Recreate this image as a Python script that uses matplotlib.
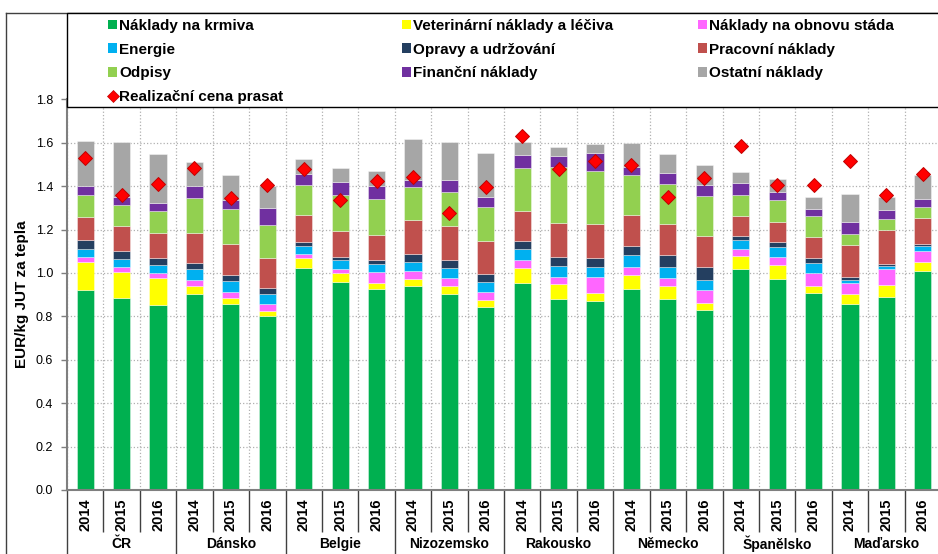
import numpy as np
import matplotlib
matplotlib.use("Agg")
import matplotlib.pyplot as plt
import matplotlib.transforms as mtransforms
from matplotlib.patches import Patch, Rectangle
from matplotlib.lines import Line2D

plt.rcParams['font.family'] = ['Liberation Sans', 'DejaVu Sans']

countries = ['ČR', 'Dánsko', 'Belgie', 'Nizozemsko', 'Rakousko',
             'Německo', 'Španělsko', 'Maďarsko']
years = ['2014', '2015', '2016']

# cost items, EUR/kg, 8 countries x 3 years
krmiva = [0.920, 0.885, 0.852, 0.905, 0.857, 0.802, 1.025, 0.957, 0.925,
          0.938, 0.905, 0.843, 0.954, 0.880, 0.872, 0.926, 0.880, 0.828,
          1.020, 0.972, 0.908, 0.857, 0.888, 1.008]
veterinarni = [0.132, 0.118, 0.126, 0.033, 0.029, 0.021, 0.044, 0.041, 0.027,
               0.034, 0.035, 0.032, 0.069, 0.069, 0.036, 0.063, 0.062, 0.032,
               0.057, 0.063, 0.032, 0.048, 0.055, 0.044]
obnova = [0.020, 0.023, 0.020, 0.028, 0.028, 0.034, 0.020, 0.022, 0.053,
          0.036, 0.037, 0.039, 0.035, 0.031, 0.072, 0.037, 0.033, 0.060,
          0.032, 0.039, 0.062, 0.049, 0.074, 0.048]
energie = [0.039, 0.037, 0.039, 0.051, 0.048, 0.045, 0.037, 0.038, 0.037,
           0.044, 0.045, 0.046, 0.051, 0.052, 0.049, 0.056, 0.051, 0.046,
           0.042, 0.046, 0.044, 0.015, 0.014, 0.023]
opravy = [0.041, 0.039, 0.031, 0.029, 0.030, 0.027, 0.016, 0.016, 0.018,
          0.034, 0.036, 0.034, 0.040, 0.042, 0.042, 0.043, 0.057, 0.062,
          0.020, 0.023, 0.025, 0.013, 0.011, 0.011]
pracovni = [0.108, 0.113, 0.117, 0.139, 0.142, 0.142, 0.124, 0.118, 0.117,
            0.159, 0.159, 0.151, 0.137, 0.154, 0.154, 0.141, 0.142, 0.143,
            0.091, 0.092, 0.095, 0.146, 0.156, 0.120]
odpisy = [0.100, 0.099, 0.101, 0.160, 0.161, 0.152, 0.139, 0.166, 0.165,
          0.152, 0.154, 0.157, 0.199, 0.261, 0.246, 0.183, 0.186, 0.184,
          0.096, 0.100, 0.097, 0.050, 0.050, 0.049]
financni = [0.040, 0.034, 0.037, 0.057, 0.043, 0.077, 0.050, 0.059, 0.058,
            0.031, 0.057, 0.047, 0.060, 0.049, 0.083, 0.037, 0.049, 0.050,
            0.057, 0.039, 0.031, 0.056, 0.043, 0.037]
ostatni = [0.209, 0.255, 0.225, 0.110, 0.111, 0.102, 0.068, 0.066, 0.071,
           0.189, 0.175, 0.205, 0.060, 0.040, 0.040, 0.114, 0.088, 0.092,
           0.048, 0.061, 0.058, 0.132, 0.057, 0.111]
# realised pig price
cena = [1.528, 1.357, 1.412, 1.482, 1.346, 1.403, 1.478, 1.338, 1.422,
        1.443, 1.277, 1.397, 1.631, 1.477, 1.517, 1.497, 1.348, 1.438,
        1.585, 1.405, 1.405, 1.517, 1.358, 1.458]

series = [
    ('Náklady na krmiva', krmiva, '#00B050'),
    ('Veterinární náklady a léčiva', veterinarni, '#FFFF00'),
    ('Náklady na obnovu stáda', obnova, '#FF66FF'),
    ('Energie', energie, '#00B0F0'),
    ('Opravy a udržování', opravy, '#243F60'),
    ('Pracovní náklady', pracovni, '#C0504D'),
    ('Odpisy', odpisy, '#92D050'),
    ('Finanční náklady', financni, '#7030A0'),
    ('Ostatní náklady', ostatni, '#A6A6A6'),
]

W, H = 938, 554
fig = plt.figure(figsize=(W / 100, H / 100), dpi=100)
ax = fig.add_axes([67 / W, 64 / H, 874 / W, 390.7 / H])

n = len(krmiva)
x = np.arange(n) + 0.5
bottom = np.zeros(n)
for label, vals, col in series:
    ax.bar(x, vals, 0.47, bottom=bottom, color=col,
           edgecolor=(1, 1, 1, 0.45), linewidth=0.6, zorder=2)
    bottom += np.array(vals)

ax.plot(x, cena, ls='', marker='D', ms=7.6, color='#FF0000',
        mec='#C00000', mew=0.7, zorder=4)

ax.set_xlim(0, n)
ax.set_ylim(0, 1.8)
ax.set_yticks(np.arange(0, 1.81, 0.2))
ax.set_yticklabels([f'{v:.1f}' for v in np.arange(0, 1.81, 0.2)])
ax.tick_params(axis='y', direction='out', length=4, width=1,
               color='#7f7f7f', labelsize=9, pad=6)

# separators under the axis: long ones between countries, short between years
ax.set_xticks(np.arange(0, n + 1, 3))
ax.set_xticks([k for k in range(n + 1) if k % 3], minor=True)
ax.tick_params(axis='x', which='major', direction='out', length=50,
               width=1, color='#404040', labelbottom=False)
ax.tick_params(axis='x', which='minor', direction='out', length=30.5,
               width=1, color='#404040', labelbottom=False)

ax.grid(True, axis='y', color='#b0b0b0', ls=':', lw=0.9, zorder=0)
ax.grid(True, axis='x', which='both', color='#b0b0b0', ls=':', lw=0.9,
        zorder=0)
ax.set_axisbelow(True)

for s in ['top', 'right']:
    ax.spines[s].set_visible(False)
ax.spines['left'].set_color('#7f7f7f')
ax.spines['left'].set_linewidth(1.5)
ax.spines['bottom'].set_color('#7f7f7f')
ax.spines['bottom'].set_linewidth(1.5)

ax.set_ylabel('EUR/kg JUT za tepla', fontsize=11, fontweight='bold')
ax.yaxis.set_label_coords(-38 / 874, 0.5)

trans = mtransforms.blended_transform_factory(ax.transData, ax.transAxes)
for i in range(n):
    ax.text(x[i], -25 / 390.7, years[i % 3], rotation=90, ha='center',
            va='center', fontsize=10.5, fontweight='bold', transform=trans,
            clip_on=False)
for j, c in enumerate(countries):
    ax.text(3 * j + 1.5, -54 / 390.7, c, ha='center', va='center',
            fontsize=10, fontweight='bold', transform=trans, clip_on=False)

# chart border and legend box
fig.add_artist(Line2D([6 / W, 1], [1 - 13 / H, 1 - 13 / H],
                      transform=fig.transFigure, color='#404040', lw=1))
fig.add_artist(Line2D([6 / W, 6 / W], [0, 1 - 13 / H],
                      transform=fig.transFigure, color='#404040', lw=1))
fig.add_artist(Rectangle((67 / W, 1 - 107 / H), 1, 94 / H,
                         transform=fig.transFigure, facecolor='white',
                         edgecolor='black', lw=1, zorder=2))

handles = {lab: Patch(facecolor=col) for lab, vals, col in series}
price_handle = Line2D([], [], ls='', marker='D', ms=6, color='#FF0000',
                      mec='#C00000', mew=0.5)
cols = [
    (['Náklady na krmiva', 'Energie', 'Odpisy'], 108),
    (['Veterinární náklady a léčiva', 'Opravy a udržování',
      'Finanční náklady'], 402),
    (['Náklady na obnovu stáda', 'Pracovní náklady', 'Ostatní náklady'], 698),
]
for k, (labs, px) in enumerate(cols):
    hs = [handles[l] for l in labs]
    if k == 0:
        hs = hs + [price_handle]
        labs = labs + ['Realizační cena prasat']
    fig.legend(hs, labs, loc='upper left', bbox_to_anchor=(px / W, 1 - 19 / H),
               frameon=False, ncol=1, borderpad=0, borderaxespad=0,
               handlelength=0.6, handleheight=0.6, handletextpad=0.15,
               labelspacing=0.63, prop={'weight': 'bold', 'size': 11})

fig.savefig('out.png', dpi=100)
